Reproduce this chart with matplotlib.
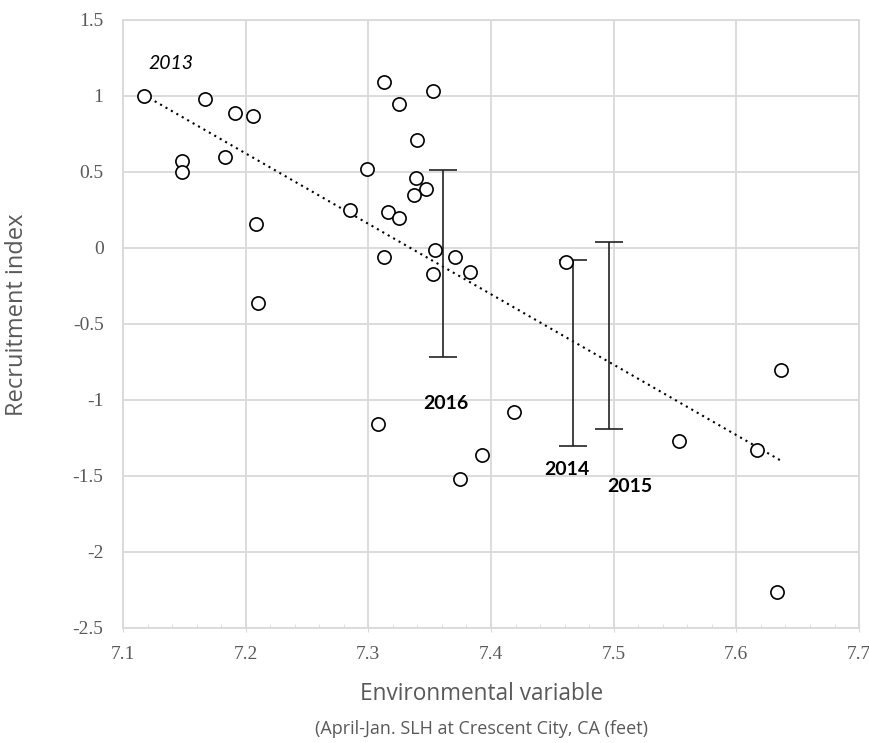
import numpy as np
import matplotlib.pyplot as plt
from matplotlib.ticker import MultipleLocator

# annual observations: environmental variable vs recruitment index
env = [7.117, 7.167, 7.191, 7.206, 7.148, 7.148, 7.183, 7.208, 7.210,
       7.313, 7.353, 7.325, 7.340, 7.299, 7.339, 7.347, 7.337, 7.285,
       7.316, 7.325, 7.354, 7.313, 7.371, 7.353, 7.383,
       7.308, 7.419, 7.393, 7.375,
       7.461, 7.553, 7.617, 7.636, 7.633]
recruit = [1.00, 0.98, 0.89, 0.87, 0.57, 0.50, 0.60, 0.16, -0.36,
           1.09, 1.03, 0.95, 0.71, 0.52, 0.46, 0.39, 0.35, 0.25,
           0.24, 0.20, -0.01, -0.06, -0.06, -0.17, -0.16,
           -1.16, -1.08, -1.36, -1.52,
           -0.09, -1.27, -1.33, -0.80, -2.26]

# recent years shown as ranges
range_years = ['2016', '2014', '2015']
range_x = [7.361, 7.467, 7.496]
range_low = [-0.72, -1.30, -1.19]
range_high = [0.51, -0.08, 0.04]

fig = plt.figure(figsize=(8.7, 7.43), dpi=100)
ax = fig.add_axes([0.1414, 0.1548, 0.8460, 0.8183])

ax.plot(env, recruit, 'o', ms=9.5, mfc='white', mec='black', mew=1.2,
        zorder=4)

mid = [(lo + hi) / 2 for lo, hi in zip(range_low, range_high)]
half = [(hi - lo) / 2 for lo, hi in zip(range_low, range_high)]

# linear trend through all years (ranges enter at their midpoint)
fit_x = np.array(env + range_x)
fit_y = np.array(recruit + mid)
slope, intercept = np.polyfit(fit_x, fit_y, 1)
tx = np.array([min(env), max(env)])
ax.plot(tx, slope * tx + intercept, color='black', lw=1.5,
        linestyle=(0, (1, 2)), zorder=3)

ax.errorbar(range_x, mid, yerr=half, fmt='none', ecolor='#222222',
            elinewidth=1.2, capsize=10, capthick=1.2, zorder=3)

ax.text(7.139, 1.215, '2013', fontsize=14, style='italic',
        family='Lato', ha='center', va='center')
label_pos = {'2016': (7.363, -1.02), '2014': (7.462, -1.46),
             '2015': (7.513, -1.57)}
for yr in range_years:
    lx, ly = label_pos[yr]
    ax.text(lx, ly, yr, fontsize=14, fontweight='bold', family='Lato',
            ha='center', va='center')

ax.set_xlim(7.1, 7.7)
ax.set_ylim(-2.5, 1.5)
ax.xaxis.set_major_locator(MultipleLocator(0.1))
ax.xaxis.set_minor_locator(MultipleLocator(0.02))
ax.yaxis.set_major_locator(MultipleLocator(0.5))
ax.xaxis.set_major_formatter(lambda v, p: f'{v:.1f}')
ax.yaxis.set_major_formatter(lambda v, p: f'{v:g}')

ax.grid(True, which='major', color='#d9d9d9', lw=1.3, zorder=0)
for s in ax.spines.values():
    s.set_color('#d9d9d9')
    s.set_linewidth(1.3)
ax.tick_params(axis='both', which='both', labelsize=14, labelcolor='#595959',
               color='#d9d9d9', labelfontfamily='Liberation Serif')
ax.tick_params(axis='x', which='major', direction='inout', length=6, pad=10)
ax.tick_params(axis='x', which='minor', direction='in', length=3)
ax.tick_params(axis='y', which='major', length=0, pad=14)

fig.text(0.554, 0.066, 'Environmental variable', fontsize=16.3,
         family='Open Sans', color='#595959', ha='center', va='center')
fig.text(0.554, 0.019, '(April-Jan. SLH at Crescent City, CA (feet)',
         fontsize=13, family='Open Sans', color='#595959',
         ha='center', va='center')
fig.text(0.020, 0.577, 'Recruitment index', fontsize=17, family='Open Sans',
         color='#595959', rotation=90, ha='center', va='center')

fig.savefig('out.png', dpi=100)
